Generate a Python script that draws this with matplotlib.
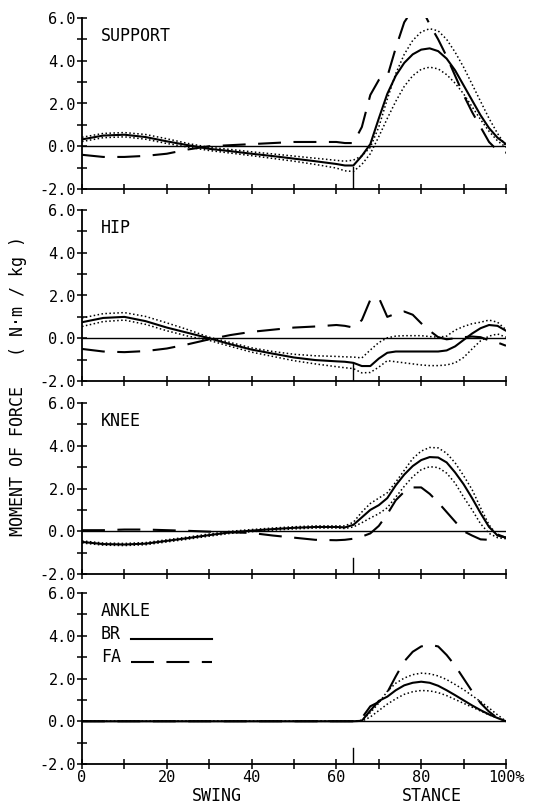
import matplotlib
matplotlib.use("Agg")
import matplotlib.pyplot as plt

# ---------------- data ----------------
pct = [0, 5, 10, 15, 20, 25, 30, 35, 40, 45, 50, 55, 60, 62, 64, 66, 68, 70,
       72, 74, 76, 78, 80, 82, 84, 86, 88, 90, 92, 94, 96, 98, 100]

# SUPPORT
support_br = [0.32, 0.50, 0.54, 0.43, 0.23, 0.05, -0.12, -0.23, -0.35, -0.46, -0.58, -0.70, -0.83, -0.90, -0.90,
              -0.45, 0.10, 1.30, 2.45, 3.30, 3.90, 4.30, 4.52, 4.58, 4.45, 4.10, 3.55, 2.85, 2.15, 1.45, 0.85, 0.40, 0.10]
support_hi = [0.42, 0.60, 0.64, 0.55, 0.35, 0.13, -0.05, -0.15, -0.26, -0.36, -0.46, -0.56, -0.66, -0.70, -0.65,
              -0.45, -0.05, 0.90, 2.20, 3.40, 4.30, 4.95, 5.35, 5.50, 5.40, 5.00, 4.40, 3.70, 2.90, 2.10, 1.30, 0.60, 0.00]
support_lo = [0.22, 0.40, 0.44, 0.33, 0.13, -0.04, -0.20, -0.32, -0.44, -0.57, -0.70, -0.85, -1.02, -1.15, -1.18,
              -0.85, -0.35, 0.45, 1.30, 2.10, 2.80, 3.30, 3.60, 3.70, 3.62, 3.35, 2.95, 2.45, 1.85, 1.25, 0.70, 0.25, -0.05]
support_fa = [-0.40, -0.50, -0.50, -0.45, -0.35, -0.15, 0.00, 0.05, 0.10, 0.15, 0.20, 0.20, 0.20, 0.15, 0.15,
              0.90, 2.40, 3.10, 3.25, 4.60, 5.80, 6.40, 6.50, 5.70, 5.00, 4.20, 3.30, 2.40, 1.60, 0.90, 0.20, -0.20, -0.30]

# HIP
hip_br = [0.75, 0.95, 1.00, 0.80, 0.50, 0.25, 0.00, -0.28, -0.53, -0.72, -0.90, -1.02, -1.08, -1.10, -1.15,
          -1.30, -1.30, -0.95, -0.68, -0.62, -0.62, -0.62, -0.62, -0.62, -0.62, -0.57, -0.38, -0.08, 0.22, 0.47, 0.62, 0.58, 0.35]
hip_hi = [0.95, 1.15, 1.20, 1.02, 0.72, 0.40, 0.05, -0.20, -0.45, -0.62, -0.75, -0.82, -0.85, -0.87, -0.88,
          -0.92, -0.55, -0.20, 0.02, 0.10, 0.12, 0.12, 0.12, 0.08, 0.05, 0.10, 0.38, 0.55, 0.68, 0.75, 0.85, 0.75, 0.40]
hip_lo = [0.55, 0.78, 0.85, 0.65, 0.35, 0.10, -0.10, -0.38, -0.65, -0.85, -1.05, -1.20, -1.33, -1.38, -1.42,
          -1.62, -1.60, -1.35, -1.05, -1.10, -1.15, -1.20, -1.25, -1.28, -1.28, -1.25, -1.15, -0.90, -0.50, -0.12, 0.10, 0.20, 0.05]
hip_fa = [-0.50, -0.62, -0.65, -0.60, -0.48, -0.28, -0.05, 0.15, 0.30, 0.40, 0.50, 0.55, 0.62, 0.58, 0.50,
          0.85, 1.80, 1.90, 1.00, 1.15, 1.25, 1.10, 0.70, 0.35, 0.05, -0.05, 0.00, 0.05, 0.08, 0.05, -0.10, -0.20, -0.35]

# KNEE
knee_br = [-0.50, -0.60, -0.62, -0.58, -0.45, -0.32, -0.18, -0.05, 0.03, 0.10, 0.16, 0.20, 0.20, 0.18, 0.30,
           0.65, 1.00, 1.22, 1.55, 2.15, 2.65, 3.05, 3.33, 3.47, 3.45, 3.22, 2.75, 2.20, 1.55, 0.85, 0.20, -0.20, -0.30]
knee_hi = [-0.45, -0.55, -0.57, -0.53, -0.40, -0.27, -0.13, 0.00, 0.08, 0.15, 0.21, 0.25, 0.25, 0.25, 0.42,
           0.90, 1.30, 1.55, 1.80, 2.30, 2.85, 3.40, 3.75, 3.92, 3.90, 3.65, 3.20, 2.60, 1.95, 1.10, 0.30, -0.20, -0.30]
knee_lo = [-0.55, -0.65, -0.67, -0.63, -0.50, -0.37, -0.23, -0.10, -0.02, 0.05, 0.11, 0.15, 0.15, 0.13, 0.20,
           0.40, 0.62, 0.82, 1.10, 1.60, 2.10, 2.55, 2.88, 3.02, 2.98, 2.72, 2.25, 1.60, 1.00, 0.35, -0.10, -0.30, -0.35]
knee_fa = [0.05, 0.05, 0.08, 0.08, 0.05, 0.02, -0.02, -0.05, -0.08, -0.20, -0.30, -0.40, -0.42, -0.40, -0.35,
           -0.25, -0.10, 0.25, 0.80, 1.45, 1.85, 2.05, 2.05, 1.75, 1.35, 0.90, 0.45, 0.00, -0.20, -0.38, -0.40, -0.15, -0.30]

# ANKLE
ankle_br = [0.00, 0.00, 0.00, 0.00, 0.00, 0.00, 0.00, 0.00, 0.00, 0.00, 0.00, 0.00, 0.00, 0.00, 0.00,
            0.02, 0.50, 0.95, 1.15, 1.45, 1.68, 1.80, 1.85, 1.80, 1.66, 1.45, 1.22, 0.98, 0.74, 0.52, 0.32, 0.15, 0.00]
ankle_hi = [0.00, 0.00, 0.00, 0.00, 0.00, 0.00, 0.00, 0.00, 0.00, 0.00, 0.00, 0.00, 0.00, 0.00, 0.00,
            0.05, 0.40, 0.85, 1.40, 1.78, 2.02, 2.18, 2.25, 2.22, 2.12, 1.95, 1.72, 1.48, 1.20, 0.92, 0.62, 0.30, 0.00]
ankle_lo = [0.00, 0.00, 0.00, 0.00, 0.00, 0.00, 0.00, 0.00, 0.00, 0.00, 0.00, 0.00, 0.00, 0.00, 0.00,
            0.00, 0.20, 0.50, 0.80, 1.05, 1.26, 1.38, 1.44, 1.42, 1.34, 1.20, 1.02, 0.84, 0.66, 0.48, 0.30, 0.15, 0.00]
ankle_fa = [0.00, 0.00, 0.00, 0.00, 0.00, 0.00, 0.00, 0.00, 0.00, 0.00, 0.00, 0.00, 0.00, 0.00, 0.00,
            0.15, 0.70, 0.90, 1.35, 2.10, 2.80, 3.25, 3.50, 3.58, 3.50, 3.10, 2.60, 2.00, 1.40, 0.85, 0.45, 0.15, 0.00]

panel_names = ["SUPPORT", "HIP", "KNEE", "ANKLE"]
toe_off = 64
mark_top = [-0.95, -1.15, -1.25, -1.25]
y_ticks = [-2, 0, 2, 4, 6]
x_ticks = [0, 20, 40, 60, 80, 100]
x_tick_labels = ["0", "20", "40", "60", "80", "100%"]
legend_labels = ["BR", "FA"]

series = [
    (support_br, support_hi, support_lo, support_fa),
    (hip_br, hip_hi, hip_lo, hip_fa),
    (knee_br, knee_hi, knee_lo, knee_fa),
    (ankle_br, ankle_hi, ankle_lo, ankle_fa),
]

# ---------------- figure ----------------
FONT = "DejaVu Sans Mono"
plt.rcParams["font.family"] = [FONT, "DejaVu Sans"]

W, H = 553, 805
fig = plt.figure(figsize=(W / 100, H / 100), dpi=100)
fig.patch.set_facecolor("white")

left_px, right_px = 82, 506
tops = [18, 210, 403, 593]
height_px = 171

DASH = (0, (11, 6))
DOT = (0, (1, 1.6))

axes = []
for i, (name, (br, hi, lo, fa)) in enumerate(zip(panel_names, series)):
    bottom = 1 - (tops[i] + height_px) / H
    ax = fig.add_axes([left_px / W, bottom, (right_px - left_px) / W, height_px / H])
    axes.append(ax)
    ax.set_xlim(0, 100)
    ax.set_ylim(-2, 6)
    for s in ["top", "right"]:
        ax.spines[s].set_visible(False)
    for s in ["left", "bottom"]:
        ax.spines[s].set_linewidth(1.3)

    ax.axhline(0, color="black", lw=1.0, zorder=1)
    ax.plot([toe_off, toe_off], [-2, mark_top[i]], color="black", lw=1.0)

    ax.plot(pct, hi, color="black", lw=1.1, linestyle=DOT)
    ax.plot(pct, lo, color="black", lw=1.1, linestyle=DOT)
    ax.plot(pct, br, color="black", lw=1.5, solid_capstyle="round")
    ax.plot(pct, fa, color="black", lw=1.5, linestyle=DASH)

    ax.set_yticks(y_ticks)
    ax.set_yticklabels([f"{v:.1f}" for v in y_ticks])
    ax.set_yticks([-1, 1, 3, 5], minor=True)
    ax.set_xticks(x_ticks)
    ax.set_xticks([10, 30, 50, 70, 90], minor=True)
    ax.tick_params(axis="both", which="both", direction="inout", length=7, width=1.1,
                   labelsize=11, pad=1)
    if i < 3:
        ax.set_xticklabels([])
    else:
        ax.set_xticklabels(x_tick_labels)

    ax.text(4.5, 5.15, name, fontsize=12, va="center", ha="left")

# legend in ankle panel
axA = axes[3]
axA.text(4.5, 4.1, legend_labels[0], fontsize=12, va="center", ha="left")
axA.text(4.5, 3.0, legend_labels[1], fontsize=12, va="center", ha="left")
axA.plot([11.6, 30.7], [3.85, 3.85], color="black", lw=1.5)
axA.plot([11.6, 30.7], [2.75, 2.75], color="black", lw=1.5, linestyle=DASH)

axA.text(31.8, -3.5, "SWING", fontsize=12, ha="center", va="center")
axA.text(82.4, -3.5, "STANCE", fontsize=12, ha="center", va="center")

fig.text(18 / W, 1 - 386 / H, "MOMENT OF FORCE   ( N\u00b7m / kg )", rotation=90,
         fontsize=12, ha="center", va="center")

fig.savefig("out.png", dpi=100)
